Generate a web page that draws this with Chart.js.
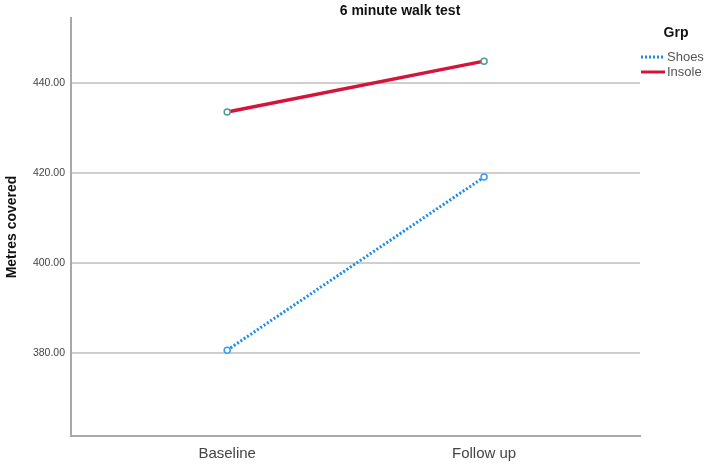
<!DOCTYPE html>
<html>
<head>
<meta charset="utf-8">
<script src="https://cdn.jsdelivr.net/npm/chart.js@4"></script>
<style>
  html, body { margin: 0; padding: 0; background: #fff; }
  #wrap { width: 709px; height: 464px; }
</style>
</head>
<body>
<div id="wrap"><canvas id="walkChart"></canvas></div>
<script>
/* ─── Data ───────────────────────────────────── */
const categories = ['Baseline', 'Follow up'];
const shoesValues = [380.6, 419.1];
const insoleValues = [433.6, 444.9];
const yTicks = [380, 400, 420, 440];
const groupNames = ['Shoes', 'Insole'];

const colors = {
    shoes: '#1a8cf0',
    insole: '#d4143c',
    grid: '#cfcfcf',
    axis: '#a8a8a8',
    text: '#444444'
};

function toPoints(values) {
    return values.map((v, i) => ({ x: i, y: v }));
}

/* ─── Title + legend drawn on top ────────────── */
const extrasPlugin = {
    id: 'extras',
    afterDraw(chart) {
        const ctx = chart.ctx;
        ctx.save();
        ctx.fillStyle = '#111';
        ctx.font = "bold 14px 'Liberation Sans', Arial, sans-serif";
        ctx.textAlign = 'center';
        ctx.textBaseline = 'middle';
        ctx.fillText('6 minute walk test', 400, 11);

        // legend
        ctx.fillText('Grp', 676, 33);
        ctx.textAlign = 'left';
        ctx.font = "13px 'Liberation Sans', Arial, sans-serif";
        ctx.fillStyle = '#555';

        ctx.lineWidth = 3;
        ctx.strokeStyle = colors.shoes;
        ctx.setLineDash([2, 2]);
        ctx.beginPath(); ctx.moveTo(641, 57); ctx.lineTo(665, 57); ctx.stroke();
        ctx.fillText(groupNames[0], 667, 57);

        ctx.strokeStyle = colors.insole;
        ctx.setLineDash([]);
        ctx.beginPath(); ctx.moveTo(641, 72); ctx.lineTo(665, 72); ctx.stroke();
        ctx.fillText(groupNames[1], 667, 72);
        ctx.restore();
    }
};

const ctx = document.getElementById('walkChart');
new Chart(ctx.getContext('2d'), {
    type: 'line',
    data: {
        datasets: [{
            label: groupNames[0],
            data: toPoints(shoesValues),
            borderColor: colors.shoes,
            borderWidth: 3,
            borderDash: [2, 2],
            pointRadius: 3,
            pointBorderWidth: 1.5,
            pointBorderColor: '#3a9af0',
            pointBackgroundColor: '#ffffff'
        }, {
            label: groupNames[1],
            data: toPoints(insoleValues),
            borderColor: colors.insole,
            borderWidth: 3.5,
            pointRadius: 3,
            pointBorderWidth: 1.5,
            pointBorderColor: '#4f9a9a',
            pointBackgroundColor: '#ffffff'
        }]
    },
    options: {
        responsive: true,
        maintainAspectRatio: false,
        animation: false,
        layout: { padding: { left: 0, top: 18, right: 69, bottom: 0 } },
        plugins: {
            legend: { display: false },
            tooltip: { enabled: false }
        },
        scales: {
            x: {
                type: 'linear',
                min: -0.608,
                max: 1.607,
                afterBuildTicks: (scale) => { scale.ticks = categories.map((c, i) => ({ value: i })); },
                afterFit: (scale) => { scale.height = 28; },
                grid: { display: false, drawTicks: false },
                border: { color: colors.axis, width: 2 },
                ticks: {
                    padding: 9,
                    color: colors.text,
                    font: { family: "'Liberation Sans', Arial, sans-serif", size: 15 },
                    callback: (v) => categories[v]
                }
            },
            y: {
                min: 361.5,
                max: 454.5,
                afterBuildTicks: (scale) => { scale.ticks = yTicks.map(v => ({ value: v })); },
                afterFit: (scale) => { scale.width = 71; },
                grid: { color: colors.grid, lineWidth: 2, drawTicks: false },
                border: { color: colors.axis, width: 2 },
                ticks: {
                    padding: 6,
                    color: colors.text,
                    font: { family: "'Liberation Sans', Arial, sans-serif", size: 10.5 },
                    callback: (v) => v.toFixed(2)
                },
                title: {
                    display: true,
                    text: 'Metres covered',
                    color: '#111',
                    padding: { top: 4, bottom: 0 },
                    font: { family: "'Liberation Sans', Arial, sans-serif", size: 14, weight: 'bold' }
                }
            }
        }
    },
    plugins: [extrasPlugin]
});
</script>
</body>
</html>
